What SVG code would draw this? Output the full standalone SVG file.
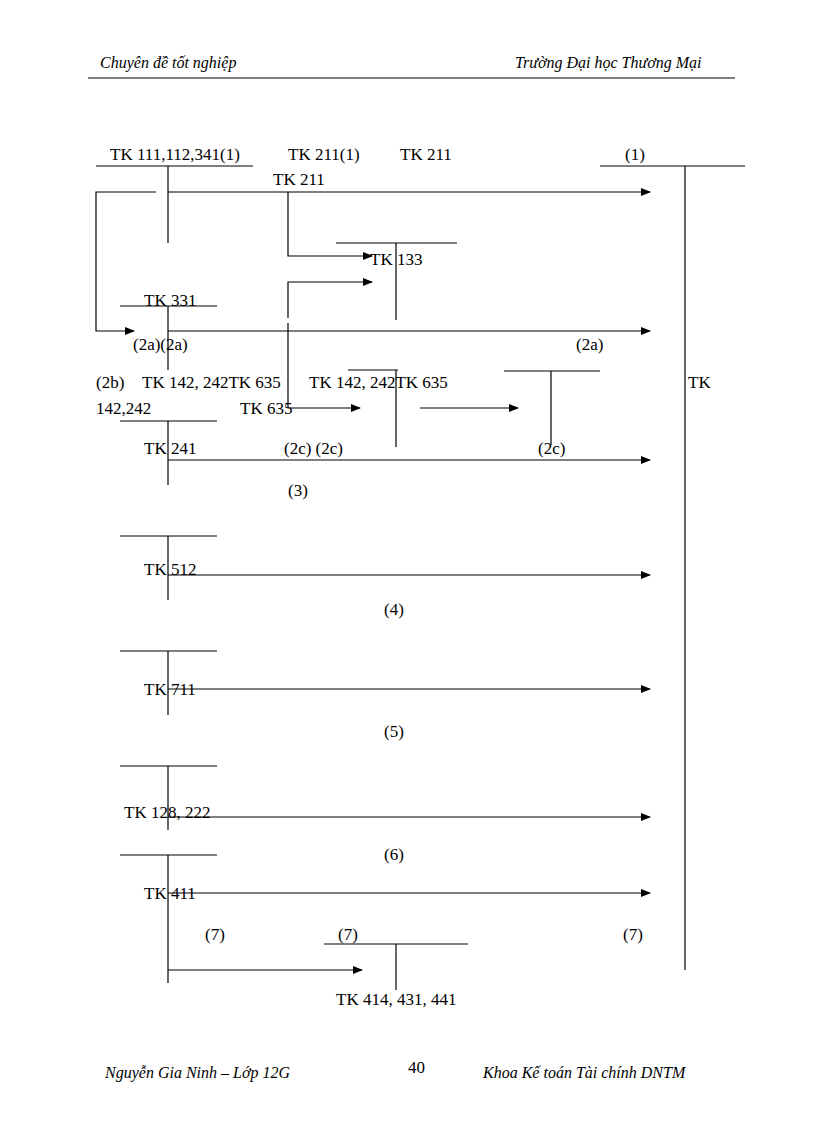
<svg xmlns="http://www.w3.org/2000/svg" width="816" height="1123" viewBox="0 0 816 1123" font-family="'Liberation Serif', 'Times New Roman', serif">
<defs><marker id="a" markerWidth="10" markerHeight="8" refX="9" refY="4" orient="auto" markerUnits="userSpaceOnUse"><path d="M0,0L10,4L0,8z" fill="#000"/></marker></defs>
<style>text{font-family:'Liberation Serif','Times New Roman',serif;font-size:17px;fill:#000}.h{font-style:italic;font-size:16px}line,polyline{stroke:#000;stroke-width:1.2;fill:none}.r{marker-end:url(#a)}</style>
<rect width="816" height="1123" fill="#fff"/>
<text class="h" x="100" y="68">Chuyên  đề tốt nghiệp</text>
<text class="h" x="515" y="68">Trường Đại học Thương Mại</text>
<line x1="88" y1="78" x2="735" y2="78"/>
<text class="h" x="105" y="1078">Nguyễn Gia Ninh – Lớp 12G</text>
<text x="408" y="1073">40</text>
<text class="h" x="483" y="1078">Khoa Kế toán Tài chính DNTM</text>
<g id="tk111"><text x="110" y="160">TK 111,112,341(1)</text><line x1="96" y1="166" x2="253" y2="166"/><line x1="168" y1="166" x2="168" y2="243"/></g>
<text x="288" y="160">TK 211(1)</text><text x="400" y="160">TK 211</text><text x="273" y="185">TK 211</text>
<g id="tkright"><text x="625" y="160">(1)</text><line x1="600" y1="166" x2="745" y2="166"/><line x1="685" y1="166" x2="685" y2="970"/><text x="688" y="388">TK</text></g>
<g id="tk133"><line x1="336" y1="243" x2="457" y2="243"/><line x1="396" y1="243" x2="396" y2="320"/><text x="370" y="265">TK 133</text></g>
<g id="tk331"><text x="144" y="306">TK 331</text><line x1="120" y1="306" x2="217" y2="306"/><line x1="168" y1="306" x2="168" y2="370"/></g>
<text x="133" y="350">(2a)(2a)</text><text x="576" y="350">(2a)</text>
<text x="96" y="388">(2b)</text><text x="142" y="388">TK 142, 242TK 635</text><text x="309" y="388">TK 142, 242TK 635</text>
<text x="96" y="414">142,242</text><text x="240" y="414">TK 635</text>
<g id="tk142"><line x1="348" y1="370" x2="398" y2="370"/><line x1="396" y1="370" x2="396" y2="447"/></g>
<g id="tk635"><line x1="504" y1="371" x2="600" y2="371"/><line x1="551" y1="371" x2="551" y2="445"/></g>
<g id="tk241"><line x1="120" y1="421" x2="217" y2="421"/><line x1="168" y1="421" x2="168" y2="485"/><text x="144" y="454">TK 241</text></g>
<text x="284" y="454">(2c) (2c)</text><text x="538" y="454">(2c)</text><text x="288" y="496">(3)</text>
<g id="tk512"><line x1="120" y1="536" x2="217" y2="536"/><line x1="168" y1="536" x2="168" y2="600"/><text x="144" y="575">TK 512</text></g>
<text x="384" y="615">(4)</text>
<g id="tk711"><line x1="120" y1="651" x2="217" y2="651"/><line x1="168" y1="651" x2="168" y2="715"/><text x="144" y="695">TK 711</text></g>
<text x="384" y="737">(5)</text>
<g id="tk128"><line x1="120" y1="766" x2="217" y2="766"/><line x1="168" y1="766" x2="168" y2="830"/><text x="124" y="818">TK 128, 222</text></g>
<text x="384" y="860">(6)</text>
<g id="tk411"><line x1="120" y1="855" x2="217" y2="855"/><line x1="168" y1="855" x2="168" y2="983"/><text x="144" y="899">TK 411</text></g>
<text x="205" y="940">(7)</text><text x="338" y="940">(7)</text><text x="623" y="940">(7)</text>
<g id="tk414"><line x1="324" y1="944" x2="468" y2="944"/><line x1="396" y1="944" x2="396" y2="990"/><text x="336" y="1005">TK 414, 431, 441</text></g>
<g id="connectors">
<line class="r" x1="168" y1="192" x2="650" y2="192"/>
<polyline class="r" points="156,192 96,192 96,331 134,331"/>
<polyline class="r" points="288,192 288,256 372,256"/>
<polyline class="r" points="288,318 288,282 372,282"/>
<polyline class="r" points="288,323 288,408 360,408"/>
<line class="r" x1="168" y1="331" x2="650" y2="331"/>
<line class="r" x1="420" y1="408" x2="518" y2="408"/>
<line class="r" x1="168" y1="460" x2="650" y2="460"/>
<line class="r" x1="168" y1="575" x2="650" y2="575"/>
<line class="r" x1="168" y1="689" x2="650" y2="689"/>
<line class="r" x1="168" y1="817" x2="650" y2="817"/>
<line class="r" x1="168" y1="893" x2="650" y2="893"/>
<line class="r" x1="168" y1="970" x2="362" y2="970"/>
</g>
</svg>
